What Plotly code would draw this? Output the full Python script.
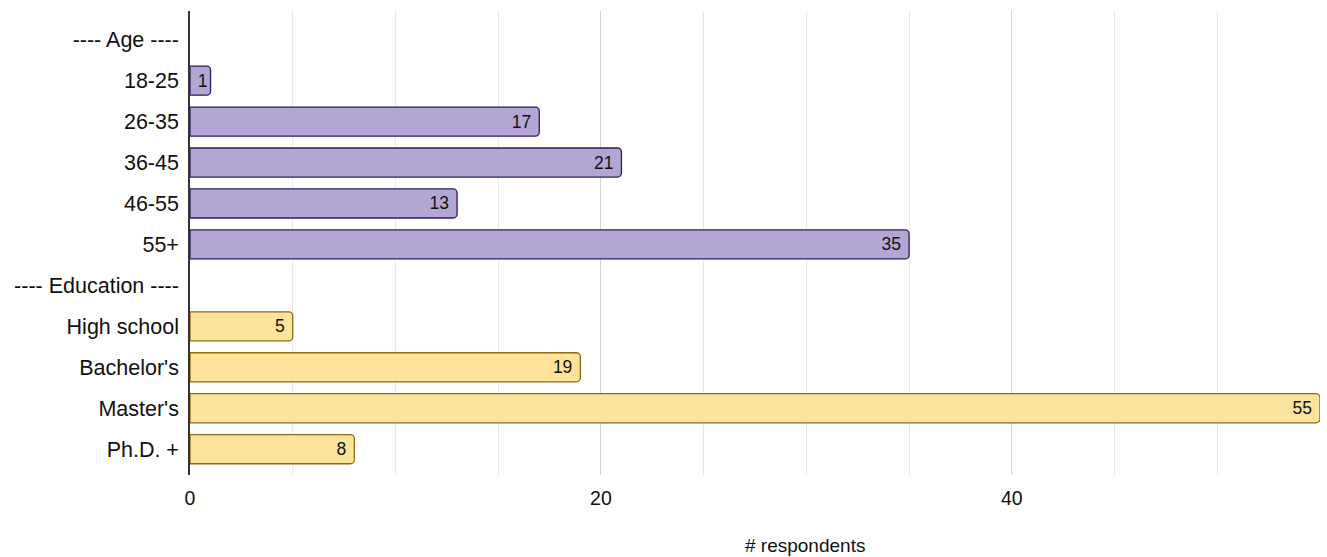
import plotly.graph_objects as go

categories = ["---- Age ----", "18-25", "26-35", "36-45", "46-55", "55+",
              "---- Education ----", "High school", "Bachelor's", "Master's", "Ph.D. +"]
age_labels = ["---- Age ----", "18-25", "26-35", "36-45", "46-55", "55+"]
age_values = [None, 1, 17, 21, 13, 35]
edu_labels = ["---- Education ----", "High school", "Bachelor's", "Master's", "Ph.D. +"]
edu_values = [None, 5, 19, 55, 8]
x_ticks = [0, 20, 40]

FONT = "Liberation Sans, Arial, Helvetica, sans-serif"


def txt(vals):
    out = []
    for v in vals:
        if v is None:
            out.append("")
        elif v < 3:
            out.append(str(v))
        else:
            out.append(str(v) + "\u00a0")
    return out


fig = go.Figure()
fig.add_trace(go.Bar(
    y=age_labels, x=age_values, orientation="h", width=0.71,
    marker=dict(color="#b3a6d4", line=dict(color="#2b1d5c", width=1.3), cornerradius=4),
    text=txt(age_values), textposition="inside", insidetextanchor="end",
    textfont=dict(size=17.5, color="#111111", family=FONT), showlegend=False,
    cliponaxis=False,
))
fig.add_trace(go.Bar(
    y=edu_labels, x=edu_values, orientation="h", width=0.71,
    marker=dict(color="#fee49a", line=dict(color="#8a6a12", width=1.3), cornerradius=4),
    text=txt(edu_values), textposition="inside", insidetextanchor="end",
    textfont=dict(size=17.5, color="#111111", family=FONT), showlegend=False,
    cliponaxis=False,
))

fig.update_layout(
    width=1327, height=557,
    margin=dict(l=190, r=7, t=11, b=82),
    plot_bgcolor="white", paper_bgcolor="white",
    barmode="overlay",
    font=dict(family=FONT, color="#111111"),
    xaxis=dict(
        range=[0, 55], tickvals=x_ticks, showgrid=True, gridcolor="#d4d4d4", gridwidth=1,
        minor=dict(dtick=5, showgrid=True, gridcolor="#e9e9e9", gridwidth=1),
        zeroline=False, showline=False, ticks="outside", ticklen=6,
        tickcolor="rgba(0,0,0,0)", tickfont=dict(size=19.5),
    ),
    yaxis=dict(
        type="category", categoryorder="array", categoryarray=categories,
        range=[10.63, -0.7], showgrid=False, showline=True, linecolor="#333333",
        linewidth=1.5, ticks="outside", ticklen=5, tickcolor="rgba(0,0,0,0)",
        tickfont=dict(size=21.5),
    ),
    annotations=[dict(
        text="# respondents", xref="paper", yref="paper", x=0.544, y=-0.152,
        xanchor="center", yanchor="middle", showarrow=False,
        font=dict(size=19, color="#111111"),
    )],
)

fig.write_html("out.html")
